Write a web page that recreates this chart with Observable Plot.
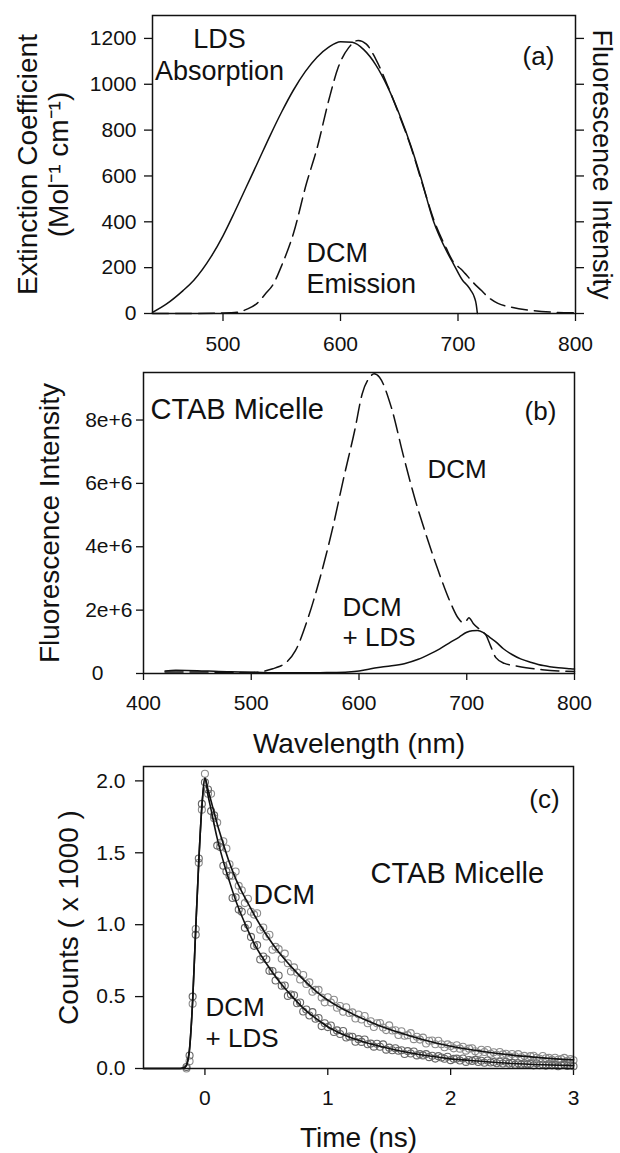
<!DOCTYPE html>
<html>
<head>
<meta charset="utf-8">
<script src="https://cdn.jsdelivr.net/npm/d3@7"></script>
<script src="https://cdn.jsdelivr.net/npm/@observablehq/plot@0.6"></script>
<style>
html, body { margin: 0; padding: 0; background: #fff; }
#wrap { position: relative; width: 620px; height: 1153px; overflow: hidden; background: #fff; }
#wrap svg { position: absolute; left: 0; }
</style>
</head>
<body>
<div id="wrap"></div>
<script>
// ---------- Panel (a): LDS absorption & DCM emission ----------
const absWavelength = [440, 452, 466, 475, 490, 500, 510, 520, 530, 540, 550, 560, 570, 580, 590, 600, 610, 620, 630, 640, 650, 660, 668, 679, 690, 696, 704, 708, 711, 714, 715.5, 716.5];
const absLDS        = [5, 42, 100, 144, 249, 339, 444, 554, 664, 775, 880, 975, 1055, 1118, 1162, 1186, 1183, 1150, 1085, 990, 870, 730, 600, 405, 275, 218, 144, 122, 100, 70, 40, 0];

const emWavelengthA = [440, 470, 500, 512, 520, 529, 536, 543, 550, 560, 571, 580, 590, 598, 607, 615, 622, 630, 640, 650, 660, 670, 680, 690, 696, 700, 702, 706, 712, 720, 726, 734, 745, 763, 780, 800];
const emDCMa        = [0, 0, 2, 5, 18, 44, 85, 130, 210, 350, 567, 720, 930, 1073, 1160, 1191, 1175, 1110, 995, 865, 725, 560, 400, 285, 225, 205, 196, 175, 140, 100, 70, 44, 28, 13, 6, 3];

const ticksAx = [500, 600, 700, 800];
const ticksAy = [0, 200, 400, 600, 800, 1000, 1200];

// ---------- Panel (b): fluorescence in CTAB micelle (units of 1e6) ----------
const bWavelengthDCM = [420, 450, 480, 500, 510, 520, 526, 531, 541, 553, 564, 575, 586, 596, 603, 610, 614, 619, 630, 641, 652, 663, 674, 686, 692, 697, 700, 702, 706, 713, 718, 722, 727, 735, 744, 755, 770, 785, 800];
const bDCM           = [0.05, 0.05, 0.03, 0.03, 0.06, 0.15, 0.22, 0.31, 0.72, 1.78, 3.04, 4.51, 6.2, 7.67, 8.83, 9.35, 9.46, 9.35, 8.4, 6.9, 5.5, 4.3, 3.2, 2.15, 1.75, 1.6, 1.68, 1.76, 1.58, 1.36, 1.2, 0.88, 0.5, 0.32, 0.25, 0.18, 0.12, 0.08, 0.06];

const bWavelengthMix = [420, 430, 450, 470, 490, 510, 530, 550, 570, 590, 600, 611, 625, 642, 655, 666, 675, 685, 693, 700, 705, 710, 715, 719, 727, 734, 742, 750, 760, 771, 785, 796, 800];
const bMix           = [0.08, 0.1, 0.09, 0.06, 0.05, 0.03, 0.02, 0.02, 0.03, 0.05, 0.08, 0.15, 0.22, 0.31, 0.45, 0.62, 0.78, 0.99, 1.15, 1.30, 1.35, 1.36, 1.3, 1.2, 1.0, 0.78, 0.6, 0.46, 0.35, 0.25, 0.18, 0.15, 0.14];

const ticksBx = [400, 500, 600, 700, 800];
const ticksBy = [0, 2, 4, 6, 8];

// ---------- Panel (c): fluorescence decays (counts x 1000) ----------
const tFit   = [-0.5, -0.2, -0.16, -0.13, -0.1, -0.075, -0.05, -0.025, 0, 0.025, 0.05, 0.1, 0.15, 0.2, 0.25, 0.3, 0.35, 0.4, 0.5, 0.6, 0.7, 0.8, 0.9, 1.0, 1.2, 1.4, 1.6, 1.8, 2.0, 2.25, 2.5, 2.75, 3.0];
const fitDCM = [0, 0, 0.01, 0.1, 0.47, 0.97, 1.44, 1.82, 2.02, 1.94, 1.86, 1.7, 1.56, 1.43, 1.32, 1.23, 1.15, 1.07, 0.93, 0.81, 0.71, 0.62, 0.54, 0.475, 0.38, 0.305, 0.245, 0.195, 0.155, 0.12, 0.093, 0.074, 0.06];
const fitMix = [0, 0, 0.01, 0.1, 0.47, 0.97, 1.44, 1.82, 2.02, 1.9, 1.8, 1.6, 1.44, 1.3, 1.17, 1.06, 0.96, 0.87, 0.73, 0.61, 0.51, 0.42, 0.35, 0.29, 0.21, 0.16, 0.12, 0.09, 0.067, 0.05, 0.035, 0.026, 0.02];

// measured points: channel 0 at -0.15 ns, channel width 0.025 ns
const decayStart = -0.15, decayStep = 0.025;
const decayDCM = [0.0, 0.05, 0.45, 0.97, 1.43, 1.8,
  2.05, 1.91, 1.91, 1.74, 1.71, 1.57, 1.58, 1.53, 1.42, 1.34,
  1.37, 1.27, 1.24, 1.15, 1.18, 1.09, 1.07, 1.08, 0.965, 0.98,
  0.918, 0.93, 0.826, 0.846, 0.83, 0.763, 0.799, 0.732, 0.675, 0.703,
  0.668, 0.619, 0.65, 0.588, 0.599, 0.534, 0.547, 0.547, 0.493, 0.46,
  0.495, 0.459, 0.478, 0.422, 0.435, 0.395, 0.426, 0.386, 0.39, 0.348,
  0.376, 0.341, 0.365, 0.315, 0.329, 0.289, 0.315, 0.316, 0.285, 0.267,
  0.30, 0.264, 0.266, 0.233, 0.259, 0.228, 0.232, 0.246, 0.204, 0.221,
  0.201, 0.215, 0.174, 0.193, 0.195, 0.169, 0.193, 0.169, 0.148, 0.168,
  0.156, 0.14, 0.162, 0.138, 0.151, 0.124, 0.138, 0.141, 0.12, 0.108,
  0.13, 0.115, 0.129, 0.103, 0.113, 0.096, 0.115, 0.098, 0.103, 0.084,
  0.101, 0.085, 0.1, 0.078, 0.088, 0.07, 0.086, 0.089, 0.075, 0.068,
  0.087, 0.071, 0.074, 0.06, 0.075, 0.061, 0.065, 0.074, 0.053, 0.065,
  0.057];
const decayMix = [0.01, 0.09, 0.5, 0.93, 1.46, 1.84,
  1.99, 1.94, 1.79, 1.76, 1.55, 1.54, 1.41, 1.37, 1.34, 1.186,
  1.19, 1.105, 1.09, 0.978, 1.0, 0.915, 0.853, 0.858, 0.758, 0.779,
  0.76, 0.679, 0.678, 0.612, 0.647, 0.575, 0.577, 0.505, 0.515, 0.509,
  0.454, 0.459, 0.396, 0.41, 0.369, 0.392, 0.346, 0.351, 0.295, 0.315,
  0.288, 0.299, 0.254, 0.265, 0.24, 0.261, 0.216, 0.223, 0.221, 0.186,
  0.204, 0.185, 0.202, 0.169, 0.173, 0.152, 0.172, 0.151, 0.168, 0.131,
  0.145, 0.127, 0.141, 0.123, 0.127, 0.101, 0.121, 0.104, 0.118, 0.091,
  0.1, 0.091, 0.1, 0.079, 0.089, 0.069, 0.086, 0.076, 0.068, 0.082,
  0.058, 0.067, 0.069, 0.056, 0.07, 0.046, 0.059, 0.053, 0.06, 0.045,
  0.054, 0.04, 0.056, 0.042, 0.045, 0.036, 0.047, 0.035, 0.047, 0.034,
  0.039, 0.026, 0.036, 0.027, 0.037, 0.029, 0.033, 0.022, 0.036, 0.023,
  0.028, 0.02, 0.03, 0.022, 0.027, 0.016, 0.023, 0.027, 0.018, 0.022,
  0.016];

const ticksCx = [0, 1, 2, 3];
const ticksCy = [0, 0.5, 1, 1.5, 2];

// ---------- build ----------
const FONT = "'Liberation Sans', Arial, Helvetica, sans-serif";
const INK = "#111";
const TICK_FS = 21;
const wrap = document.getElementById("wrap");
function place(svg, top) { svg.style.top = top + "px"; wrap.appendChild(svg); }
const zip = (xs, ys) => xs.map((x, i) => ({x, y: ys[i]}));
const note = (txt, o) => Plot.text([txt], {text: d => d, fontSize: 26, fill: INK, lineHeight: 1.17, ...o});
const title = (txt, o) => Plot.text([txt], {text: d => d, fontSize: 28, fill: INK, textAnchor: "middle", ...o});
const style = {fontFamily: FONT, fontSize: "20px", color: INK, background: "transparent", overflow: "visible"};

// Panel (a)
const plotA = Plot.plot({
  width: 620, height: 362,
  marginTop: 15, marginBottom: 49, marginLeft: 152, marginRight: 45,
  style,
  x: {domain: [440, 800]},
  y: {domain: [0, 1300]},
  marks: [
    Plot.axisX({ticks: ticksAx, tickSize: 8, tickPadding: 15, fontSize: TICK_FS, strokeWidth: 1.3, label: null, tickFormat: d => String(d)}),
    Plot.axisY({ticks: ticksAy, tickSize: 8, tickPadding: 8, fontSize: TICK_FS, strokeWidth: 1.3, label: null, tickFormat: d => String(d)}),
    Plot.axisY({ticks: ticksAy, anchor: "right", tickSize: 8, tickFormat: () => "", strokeWidth: 1.3, label: null}),
    Plot.line(zip(emWavelengthA, emDCMa), {x: "x", y: "y", curve: "monotone-x", stroke: INK, strokeWidth: 1.5, strokeDasharray: "16,7"}),
    Plot.line(zip(absWavelength, absLDS), {x: "x", y: "y", curve: "monotone-x", stroke: INK, strokeWidth: 1.5}),
    Plot.frame({stroke: INK, strokeWidth: 1.5}),
    note("LDS\nAbsorption", {x: [497], y: [1132], fontSize: 27}),
    note("DCM\nEmission", {x: [571], y: [201], textAnchor: "start", fontSize: 27}),
    note("(a)", {x: [768.5], y: [1126]}),
    title("Extinction Coefficient", {frameAnchor: "left", rotate: -90, dx: -124}),
    title("(Mol\u207B\u00B9 cm\u207B\u00B9)", {frameAnchor: "left", rotate: -90, dx: -93}),
    title("Fluorescence Intensity", {frameAnchor: "right", rotate: 90, dx: 26, fontSize: 27})
  ]
});
place(plotA, 0);

// Panel (b)
const plotB = Plot.plot({
  width: 620, height: 400,
  marginTop: 10, marginBottom: 89, marginLeft: 143, marginRight: 46,
  style,
  x: {domain: [400, 800]},
  y: {domain: [0, 9.5]},
  marks: [
    Plot.axisX({ticks: ticksBx, tickSize: 7, tickPadding: 15, fontSize: TICK_FS, strokeWidth: 1.3, label: null, tickFormat: d => String(d)}),
    Plot.axisY({ticks: ticksBy, tickSize: 7, tickPadding: 4, fontSize: TICK_FS, strokeWidth: 1.3, label: null,
      tickFormat: d => d === 0 ? "0\u00A0\u00A0\u00A0\u00A0\u00A0" : d + "e+6"}),
    Plot.line(zip(bWavelengthDCM, bDCM), {x: "x", y: "y", curve: "monotone-x", stroke: INK, strokeWidth: 1.5, strokeDasharray: "18,7"}),
    Plot.line(zip(bWavelengthMix, bMix), {x: "x", y: "y", curve: "monotone-x", stroke: INK, strokeWidth: 1.5}),
    Plot.frame({stroke: INK, strokeWidth: 1.5}),
    note("CTAB Micelle", {x: [406.5], y: [8.36], textAnchor: "start", fontSize: 29}),
    note("(b)", {x: [768.4], y: [8.3]}),
    note("DCM", {x: [663.6], y: [6.47], textAnchor: "start"}),
    note("DCM\n+ LDS", {x: [584.7], y: [1.64], textAnchor: "start"}),
    title("Fluorescence Intensity", {frameAnchor: "left", rotate: -90, dx: -93}),
    title("Wavelength (nm)", {frameAnchor: "bottom", lineAnchor: "top", dy: 60})
  ]
});
place(plotB, 362);

// Panel (c)
const ptsDCM = decayDCM.map((v, i) => ({x: decayStart + i * decayStep, y: v}));
const ptsMix = decayMix.map((v, i) => ({x: decayStart + i * decayStep, y: v}));
const plotC = Plot.plot({
  width: 620, height: 391,
  marginTop: 4, marginBottom: 85, marginLeft: 143, marginRight: 47,
  style,
  x: {domain: [-0.5, 3]},
  y: {domain: [0, 2.1]},
  marks: [
    Plot.axisX({ticks: ticksCx, tickSize: 7, tickPadding: 15, fontSize: TICK_FS, strokeWidth: 1.3, label: null, tickFormat: d => String(d)}),
    Plot.axisY({ticks: ticksCy, tickSize: 8, tickPadding: 10, fontSize: TICK_FS, strokeWidth: 1.3, label: null, tickFormat: d3.format(".1f")}),
    Plot.dot(ptsDCM, {x: "x", y: "y", r: 3.5, stroke: "#8c8c8c", strokeWidth: 1.1, fill: "none"}),
    Plot.dot(ptsMix, {x: "x", y: "y", r: 3.5, stroke: "#666", strokeWidth: 1.1, fill: "none"}),
    Plot.line(zip(tFit, fitDCM), {x: "x", y: "y", curve: "monotone-x", stroke: INK, strokeWidth: 1.6}),
    Plot.line(zip(tFit, fitMix), {x: "x", y: "y", curve: "monotone-x", stroke: INK, strokeWidth: 1.6}),
    Plot.frame({stroke: INK, strokeWidth: 1.5}),
    note("(c)", {x: [2.764], y: [1.882]}),
    note("CTAB Micelle", {x: [1.348], y: [1.368], textAnchor: "start", fontSize: 29}),
    note("DCM", {x: [0.395], y: [1.215], textAnchor: "start", fontSize: 27}),
    note("DCM\n+ LDS", {x: [0.005], y: [0.326], textAnchor: "start"}),
    title("Counts ( x 1000 )", {frameAnchor: "left", rotate: -90, dx: -74}),
    title("Time (ns)", {frameAnchor: "bottom", lineAnchor: "top", dy: 59})
  ]
});
place(plotC, 762);
</script>
</body>
</html>
